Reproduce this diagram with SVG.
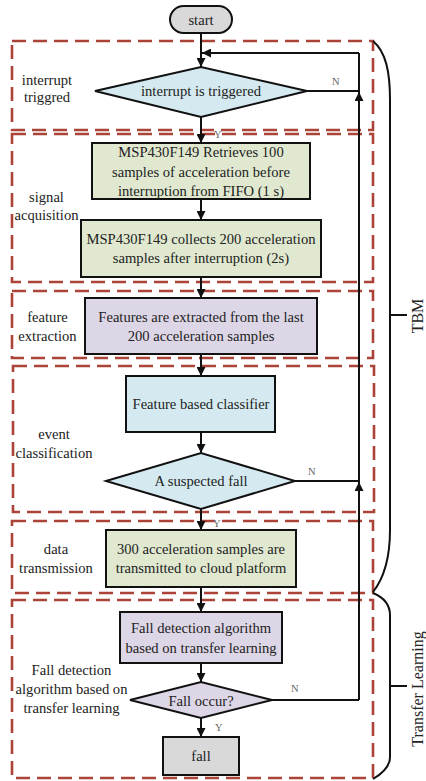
<svg xmlns="http://www.w3.org/2000/svg" width="426" height="781" viewBox="0 0 426 781" font-family="'Liberation Serif', 'DejaVu Serif', serif">
<style>
  text { font-family: 'Liberation Serif', 'DejaVu Serif', serif; fill: #222; }
  .t { font-size: 14.6px; text-anchor: middle; }
  .lbl { font-size: 14.6px; text-anchor: middle; }
  .yn { font-size: 10.5px; fill: #666; }
  .side { font-size: 16px; text-anchor: middle; }
  .zone { fill: none; stroke: #ab4338; stroke-width: 2.6; stroke-dasharray: 14 7; }
  .node { stroke: #111; stroke-width: 2; }
  .gray { fill: #d9d9d9; }
  .green { fill: #e0e9d0; }
  .violet { fill: #ddd6e6; }
  .cyan { fill: #d5eaf0; }
  .wire { fill: none; stroke: #111; stroke-width: 2; }
  .brace { fill: none; stroke: #111; stroke-width: 2; }
</style>
<defs>
  <marker id="arr" viewBox="0 0 10 10" refX="10" refY="5" markerWidth="9" markerHeight="9" markerUnits="userSpaceOnUse" orient="auto">
    <path d="M0,0 L10,5 L0,10 z" fill="#111"/>
  </marker>
</defs>
<rect width="426" height="781" fill="#ffffff"/>

<!-- stage zones -->
<g id="zones">
  <rect class="zone" x="12" y="41" width="361" height="89"/>
  <rect class="zone" x="12" y="134" width="361" height="148"/>
  <rect class="zone" x="12" y="291" width="361" height="67"/>
  <rect class="zone" x="13" y="366" width="361" height="146"/>
  <rect class="zone" x="12" y="521" width="361" height="72"/>
  <rect class="zone" x="12" y="600" width="361" height="178"/>
</g>

<!-- stage labels -->
<g id="stage-labels">
  <text class="lbl" x="47" y="85">interrupt</text>
  <text class="lbl" x="47" y="102">triggred</text>
  <text class="lbl" x="46.5" y="202">signal</text>
  <text class="lbl" x="46.5" y="220">acquisition</text>
  <text class="lbl" x="47.5" y="322">feature</text>
  <text class="lbl" x="47.5" y="341">extraction</text>
  <text class="lbl" x="54" y="439">event</text>
  <text class="lbl" x="54" y="458">classification</text>
  <text class="lbl" x="56" y="554">data</text>
  <text class="lbl" x="56" y="573">transmission</text>
  <text class="lbl" x="71.5" y="675">Fall detection</text>
  <text class="lbl" x="71.5" y="694">algorithm based on</text>
  <text class="lbl" x="71.5" y="713">transfer learning</text>
</g>

<!-- connectors -->
<g id="connectors">
  <line class="wire" x1="201" y1="33" x2="201" y2="67" marker-end="url(#arr)"/>
  <line class="wire" x1="359" y1="53" x2="202" y2="53" marker-end="url(#arr)"/>
  <line class="wire" x1="307" y1="91" x2="359" y2="91"/>
  <line class="wire" x1="359" y1="700" x2="359" y2="53"/>
  <line class="wire" x1="359" y1="110" x2="359" y2="92" marker-end="url(#arr)"/>
  <line class="wire" x1="201" y1="117" x2="201" y2="143" marker-end="url(#arr)"/>
  <line class="wire" x1="201" y1="199" x2="201" y2="220" marker-end="url(#arr)"/>
  <line class="wire" x1="201" y1="277" x2="201" y2="298" marker-end="url(#arr)"/>
  <line class="wire" x1="201" y1="354" x2="201" y2="376" marker-end="url(#arr)"/>
  <line class="wire" x1="201" y1="432" x2="201" y2="453" marker-end="url(#arr)"/>
  <line class="wire" x1="295" y1="481" x2="359" y2="481"/>
  <line class="wire" x1="359" y1="500" x2="359" y2="482" marker-end="url(#arr)"/>
  <line class="wire" x1="201" y1="509" x2="201" y2="530" marker-end="url(#arr)"/>
  <line class="wire" x1="201" y1="587" x2="201" y2="612" marker-end="url(#arr)"/>
  <line class="wire" x1="201" y1="663" x2="201" y2="682" marker-end="url(#arr)"/>
  <line class="wire" x1="272" y1="700" x2="359" y2="700"/>
  <line class="wire" x1="201" y1="718" x2="201" y2="737" marker-end="url(#arr)"/>
  <text class="yn" x="332" y="85">N</text>
  <text class="yn" x="214" y="138">Y</text>
  <text class="yn" x="308" y="475">N</text>
  <text class="yn" x="213" y="527">Y</text>
  <text class="yn" x="291" y="692">N</text>
  <text class="yn" x="215" y="731">Y</text>
</g>

<!-- nodes -->
<g id="start">
  <rect class="node gray" x="170" y="6" width="62" height="27" rx="13.5"/>
  <text class="t" x="201" y="25">start</text>
</g>
<g id="interrupt-check">
  <polygon class="node cyan" points="95,91 201,67 307,91 201,117"/>
  <text class="t" x="201" y="96">interrupt is triggered</text>
</g>
<g id="retrieve-fifo">
  <rect class="node green" x="92" y="143" width="218" height="56"/>
  <text class="t" x="201" y="157">MSP430F149 Retrieves 100</text>
  <text class="t" x="201" y="176.5">samples of acceleration before</text>
  <text class="t" x="201" y="196">interruption from FIFO (1 s)</text>
</g>
<g id="collect-samples">
  <rect class="node green" x="81" y="220" width="240" height="57"/>
  <text class="t" x="201" y="244">MSP430F149 collects 200 acceleration</text>
  <text class="t" x="201" y="263">samples after interruption (2s)</text>
</g>
<g id="extract-features">
  <rect class="node violet" x="85" y="298" width="232" height="56"/>
  <text class="t" x="201" y="322">Features are extracted from the last</text>
  <text class="t" x="201" y="341">200 acceleration samples</text>
</g>
<g id="classifier">
  <rect class="node cyan" x="126" y="376" width="149" height="56"/>
  <text class="t" x="201" y="409">Feature based classifier</text>
</g>
<g id="suspected-fall">
  <polygon class="node cyan" points="106,481 201,453 295,481 201,509"/>
  <text class="t" x="201" y="486">A suspected fall</text>
</g>
<g id="transmit">
  <rect class="node green" x="106" y="530" width="190" height="57"/>
  <text class="t" x="201" y="554">300 acceleration samples are</text>
  <text class="t" x="201" y="573">transmitted to cloud platform</text>
</g>
<g id="transfer-algorithm">
  <rect class="node violet" x="120" y="612" width="162" height="51"/>
  <text class="t" x="201" y="633">Fall detection algorithm</text>
  <text class="t" x="201" y="653">based on transfer learning</text>
</g>
<g id="fall-occur">
  <polygon class="node violet" points="130,700 201,682 272,700 201,718"/>
  <text class="t" x="201" y="706">Fall occur?</text>
</g>
<g id="fall">
  <rect class="node gray" x="163" y="737" width="76" height="38"/>
  <text class="t" x="201" y="761">fall</text>
</g>

<!-- phase braces -->
<g id="brace-tbm">
  <path class="brace" d="M373,41 C386,52 390,72 390,100 V530 C390,560 384,578 373,592 M390,315 H407"/>
  <text class="side" transform="translate(423,316) rotate(-90)">TBM</text>
</g>
<g id="brace-transfer">
  <path class="brace" d="M373,593 C385,598 390,605 390,615 V757 C390,765 385,772 373,779 M390,686 H407"/>
  <text class="side" transform="translate(423,689) rotate(-90)">Transfer Learning</text>
</g>
</svg>
